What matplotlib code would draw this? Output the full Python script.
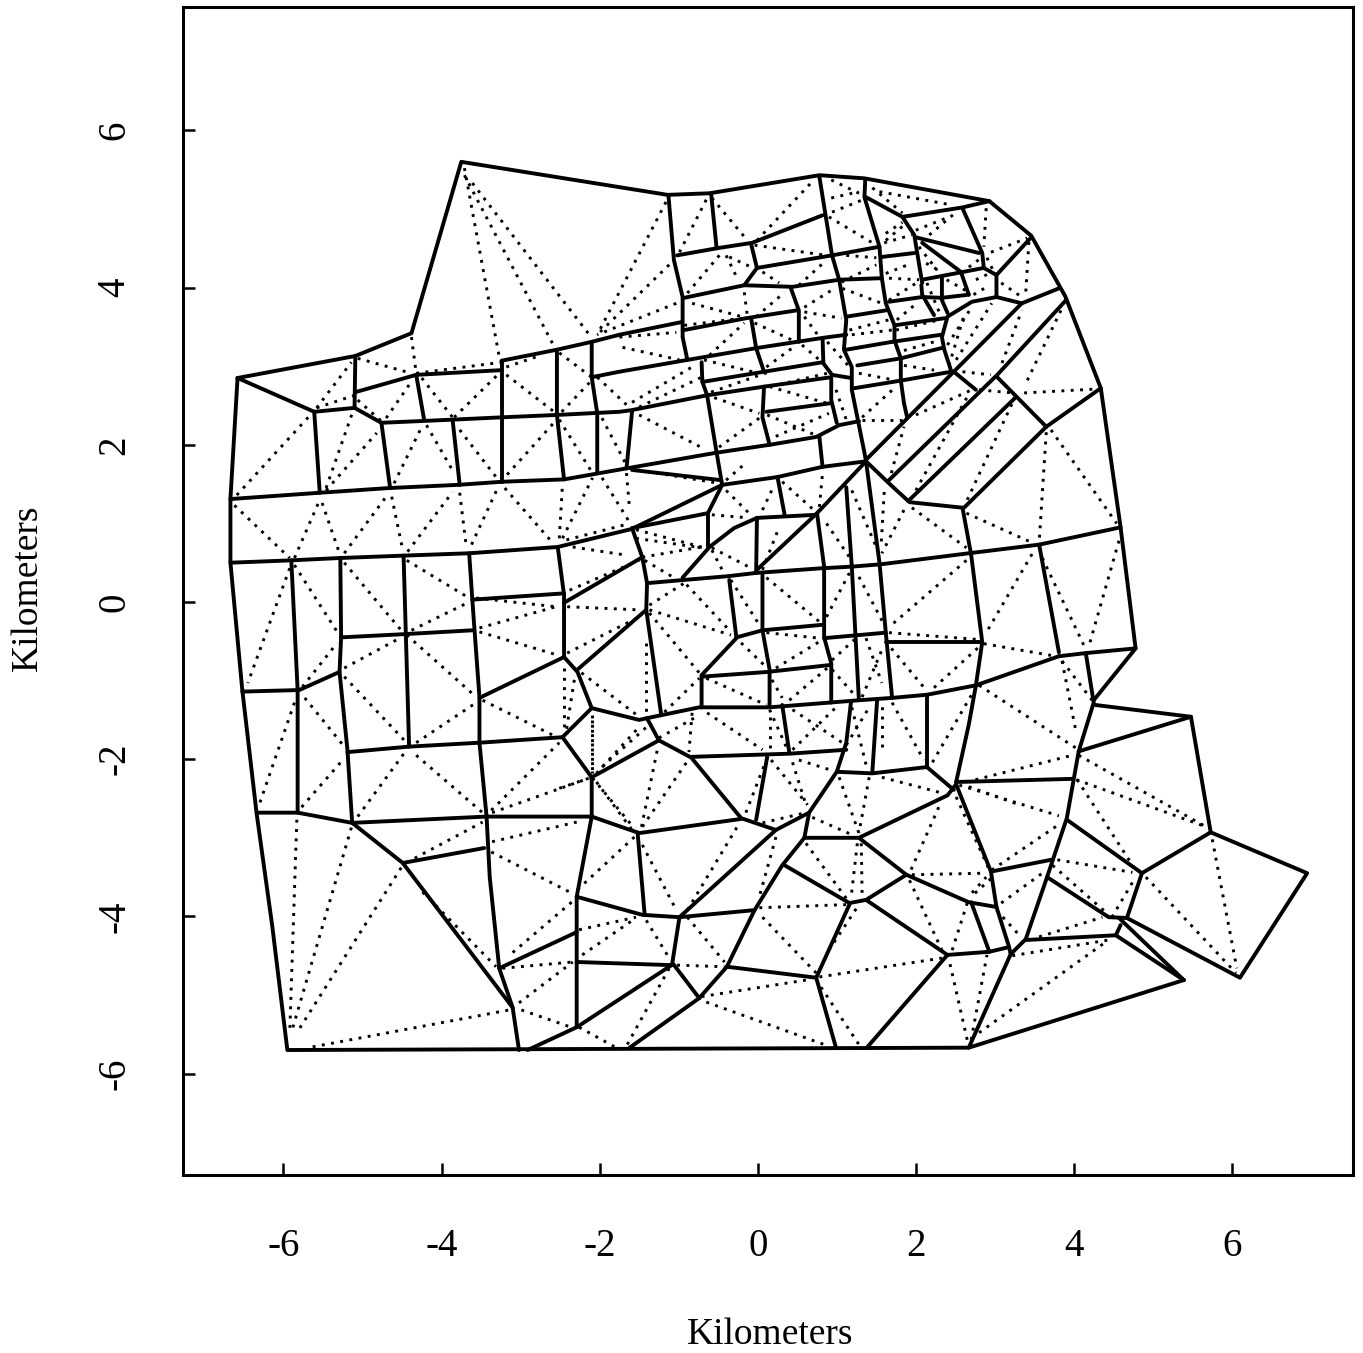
import matplotlib
matplotlib.use("Agg")
import matplotlib.pyplot as plt

# Polygon edges in km, each line is x, y, x, y, ...
boundary = [
    [-6.58,2.85, -5.09,3.13, -4.38,3.42, -3.75,5.60, -1.14,5.18, -0.61,5.20, 0.78,5.43, 1.35,5.39,
     2.93,5.10, 3.46,4.66, 3.89,3.89, 4.34,2.72, 4.59,0.95, 4.78,-0.59, 4.25,-1.25],
    [4.27,-1.31, 5.48,-1.46, 5.73,-2.93, 6.95,-3.45, 6.10,-4.78, 4.67,-4.02],
    [5.39,-4.81, 2.67,-5.67, -5.95,-5.70, -6.14,-4.13, -6.34,-2.68, -6.52,-1.12, -6.67,0.50, -6.67,1.31, -6.58,2.85],
]

north_west = [
    [-6.67,1.31, -5.54,1.39, -4.66,1.45, -3.80,1.49, -3.23,1.53, -2.45,1.56, -1.66,1.70, -0.52,1.90, 0.15,2.00, 0.74,2.10, 1.03,2.25, 1.28,2.30],
    [-6.67,0.50, -5.90,0.53, -5.28,0.56, -4.48,0.59, -3.65,0.62, -2.53,0.70, -1.59,0.93, -0.45,1.49],
    [-1.59,1.68, -0.46,1.55],
    [-0.45,1.49, 0.25,1.59, 0.82,1.72, 1.37,1.79],
    [-6.58,2.85, -5.61,2.42, -5.10,2.47, -4.76,2.28],
    [-5.61,2.42, -5.54,1.39],
    [-4.76,2.28, -4.65,1.45],
    [-5.09,3.13, -5.10,2.47],
    [-5.09,2.67, -4.32,2.89, -3.24,2.95],
    [-4.32,2.89, -4.22,2.32],
    [-4.76,2.28, -3.86,2.32, -3.23,2.35, -2.54,2.38, -1.75,2.42, -1.60,2.44, -0.64,2.63, 0.08,2.74, 0.93,2.86],
    [-3.86,2.32, -3.77,1.49],
    [-3.24,3.07, -3.24,1.53],
    [-2.54,3.21, -2.54,2.38, -2.45,1.56],
    [-2.10,3.31, -2.10,2.86, -2.03,2.40, -2.03,1.65],
    [-2.10,2.86, -1.75,2.93, -0.89,3.08, -0.02,3.23, 0.82,3.36, 1.12,3.40],
    [-3.24,3.07, -2.54,3.21, -2.10,3.31, -1.75,3.40, -0.97,3.56],
]

north_centre = [
    [-1.13,5.18, -1.06,4.35, -0.95,3.88, -0.95,3.37, -0.89,3.08],
    [-0.59,5.20, -0.52,4.50],
    [-1.02,4.41, -0.52,4.50, -0.07,4.57, 0.82,4.92],
    [-0.01,4.25, 0.94,4.41, 1.54,4.52],
    [-0.08,4.54, -0.01,4.25, -0.17,4.03],
    [-0.93,3.87, -0.17,4.03, 0.44,4.01, 1.03,4.10, 1.57,4.12],
    [1.57,4.39, 1.98,4.44],
    [-0.93,3.46, -0.15,3.61, 0.49,3.71],
    [0.42,3.99, 0.52,3.71, 0.52,3.31],
    [0.78,5.41, 0.94,4.41, 1.03,4.10, 1.12,3.59, 1.09,3.21, 1.19,2.99, 1.19,2.70, 1.35,1.90, 1.37,1.79],
    [1.12,3.63, 1.62,3.71],
    [1.12,3.21, 1.70,3.31],
    [-0.71,3.05, -0.70,2.80, -0.64,2.63, -0.52,1.90],
    [-0.70,2.80, 0.08,2.93, 0.82,3.05, 0.94,2.89, 1.18,2.85],
    [0.82,3.36, 0.83,3.05],
    [-0.08,3.59, -0.02,3.23, 0.08,2.93],
    [0.93,2.86, 0.93,2.57, 1.00,2.28],
    [0.11,2.42, 0.93,2.53],
    [0.08,2.74, 0.06,2.35, 0.15,2.00],
    [0.78,2.10, 0.82,1.72],
    [-1.59,2.42, -1.66,1.70],
    [1.22,2.72, 1.83,2.82],
    [1.26,3.01, 1.81,3.10],
    [1.81,3.10, 1.81,2.82, 1.85,2.53, 1.89,2.35],
    [1.73,3.50, 1.73,3.33, 1.81,3.10],
]

north_east = [
    [1.36,5.37, 1.35,5.15, 1.54,4.52, 1.57,4.12, 1.62,3.80, 1.73,3.52],
    [1.37,5.15, 1.83,4.90, 1.98,4.67, 2.08,4.06],
    [1.83,4.90, 2.59,5.02, 2.93,5.10],
    [2.59,5.01, 2.84,4.44, 2.86,4.25],
    [2.00,4.64, 2.80,4.44],
    [2.08,4.57, 2.57,4.20, 2.67,3.91],
    [2.08,4.10, 2.86,4.25, 3.02,4.16, 3.02,3.88],
    [3.02,4.16, 3.46,4.64],
    [2.33,4.12, 2.33,3.84, 2.40,3.68],
    [2.07,4.03, 2.08,3.91, 2.23,3.65],
    [1.66,3.82, 2.08,3.88, 2.33,3.87, 2.67,3.91],
    [2.40,3.63, 2.71,3.82, 3.02,3.88, 3.34,3.80, 3.81,3.99],
    [2.40,3.63, 2.33,3.37, 2.36,3.21, 2.45,2.93],
    [1.73,3.52, 2.36,3.61],
    [1.70,3.31, 2.32,3.40],
    [1.81,3.10, 2.32,3.23],
    [1.83,2.82, 2.45,2.93],
    [3.34,3.80, 2.48,2.93, 1.37,1.81],
    [3.90,3.84, 3.03,2.89, 1.66,1.55],
    [2.48,2.93, 2.76,2.70],
    [3.03,2.86, 3.65,2.23],
    [3.27,2.61, 1.92,1.30],
    [3.65,2.23, 2.61,1.20],
    [3.65,2.23, 4.34,2.72],
    [1.37,1.79, 1.66,1.51, 1.92,1.27, 2.59,1.20],
    [2.59,1.20, 2.70,0.60, 2.84,-0.51, 2.76,-1.06, 2.67,-1.56, 2.51,-2.29],
]

middle = [
    [-1.40,0.24, -0.36,0.33, -0.02,0.37, 0.82,0.43, 1.19,0.45, 1.56,0.48, 2.67,0.62, 3.56,0.73, 4.59,0.95],
    [3.56,0.73, 3.81,-0.64],
    [1.37,1.79, 1.54,0.50, 1.62,-0.39, 1.70,-1.22],
    [1.12,1.46, 1.19,0.45, 1.28,-1.25],
    [0.75,1.13, 0.84,0.45, 0.84,-0.45, 0.93,-0.78, 0.93,-1.28],
    [1.37,1.79, 0.75,1.13, -0.01,0.41],
    [-0.01,1.07, 0.75,1.11],
    [-0.01,1.07, -0.02,0.37],
    [-0.95,0.31, -0.61,0.70, -0.30,0.94, -0.01,1.07],
    [-0.63,1.13, -0.63,0.70],
    [-1.59,0.94, -0.63,1.13, -0.45,1.49],
    [-1.59,0.94, -1.46,0.57, -1.40,0.24],
    [-0.52,1.90, -0.45,1.49],
    [0.25,1.59, 0.34,1.11],
    [1.62,-0.51, 2.84,-0.51],
    [0.84,-0.46, 1.62,-0.39],
    [-1.40,0.24, -1.41,-0.10, -1.22,-1.44],
    [-2.28,-0.86, -1.41,-0.10],
    [-0.36,0.28, -0.27,-0.45],
    [-0.27,-0.45, 0.06,-0.36, 0.82,-0.29],
    [-0.27,-0.46, -0.71,-0.93, -0.71,-1.34],
    [-0.71,-0.95, 0.12,-0.89, 0.93,-0.80],
    [0.06,0.34, 0.06,-0.36, 0.15,-0.86, 0.15,-1.34],
    [-1.41,-1.48, -1.22,-1.44, -0.74,-1.34, 0.15,-1.34, 1.28,-1.25, 1.70,-1.22, 2.14,-1.18, 2.76,-1.06, 3.81,-0.69],
    [3.81,-0.69, 4.15,-0.65, 4.78,-0.59],
    [4.15,-0.65, 4.25,-1.28, 4.06,-1.90, 3.91,-2.75, 3.66,-3.50, 3.39,-4.29, 3.20,-4.48, 2.67,-5.67],
    [2.14,-1.18, 2.14,-2.10],
    [1.51,-1.25, 1.45,-2.16],
    [1.18,-1.27, 1.12,-1.79, 1.00,-2.16, 0.65,-2.68, 0.59,-3.00, 0.31,-3.35, -0.04,-3.92, -0.39,-4.64, -0.74,-5.04],
    [0.31,-1.31, 0.40,-1.92],
    [-0.84,-1.97, 0.40,-1.93, 1.12,-1.88],
    [1.00,-2.16, 1.45,-2.18, 2.14,-2.10, 2.48,-2.39],
    [-1.40,-1.48, -1.25,-1.76, -0.84,-1.98, -0.21,-2.75, 0.23,-2.90, 0.65,-2.68],
    [2.51,-2.29, 3.98,-2.25],
    [0.12,-1.97, -0.02,-2.77],
]

south_west = [
    [-5.90,0.53, -5.82,-1.12, -5.82,-2.68],
    [-6.52,-1.14, -5.80,-1.12, -5.29,-0.89],
    [-6.33,-2.68, -5.82,-2.68, -5.13,-2.81],
    [-5.28,0.56, -5.27,-0.45, -5.29,-0.89, -5.19,-1.88, -5.13,-2.81],
    [-5.27,-0.45, -4.49,-0.41, -3.61,-0.36],
    [-4.48,0.59, -4.41,-1.84],
    [-5.19,-1.91, -4.41,-1.84, -3.52,-1.79, -2.47,-1.72],
    [-3.65,0.62, -3.61,0.03, -3.58,-0.39, -3.52,-1.21, -3.52,-1.79, -3.43,-2.73, -3.39,-3.50, -3.27,-4.66, -3.10,-5.16, -3.02,-5.70],
    [-3.61,0.03, -2.45,0.11],
    [-2.53,0.70, -2.45,0.09, -2.45,-0.70, -2.28,-0.89, -2.10,-1.35],
    [-2.45,-0.01, -1.46,0.57],
    [-2.45,-0.70, -3.52,-1.22],
    [-2.47,-1.72, -2.10,-1.35, -1.50,-1.50, -1.41,-1.48],
    [-2.47,-1.72, -2.10,-2.23, -1.25,-1.76],
    [-2.10,-2.23, -2.10,-2.73, -2.29,-3.75, -2.29,-5.41],
    [-5.13,-2.81, -3.43,-2.73, -2.10,-2.73, -1.50,-2.94, -0.21,-2.76],
    [-5.13,-2.81, -4.49,-3.32, -3.10,-5.16],
    [-4.49,-3.32, -3.46,-3.13],
    [-3.27,-4.66, -2.29,-4.20],
    [-2.29,-3.75, -1.46,-3.98, -0.99,-4.01, -0.04,-3.92],
    [-2.29,-4.58, -1.09,-4.62],
    [-2.91,-5.70, -2.29,-5.41, -1.09,-4.62],
    [-1.62,-5.67, -0.74,-5.04],
    [-1.52,-2.93, -1.43,-3.98],
    [0.23,-2.90, -0.99,-4.01, -1.08,-4.59, -0.74,-5.04],
]

south_east = [
    [-0.39,-4.64, 0.74,-4.78, 0.99,-5.67],
    [0.74,-4.78, 1.16,-3.85],
    [0.34,-3.35, 1.16,-3.83, 1.37,-3.79, 1.88,-3.47],
    [0.59,-3.00, 1.28,-3.00, 1.88,-3.47, 2.67,-3.82, 3.02,-3.88],
    [1.28,-3.00, 2.40,-2.46, 2.51,-2.32],
    [1.37,-3.79, 2.40,-4.49, 2.93,-4.45, 3.18,-4.39],
    [1.38,-5.67, 2.40,-4.49],
    [2.70,-3.82, 2.93,-4.45],
    [2.51,-2.32, 2.95,-3.43, 3.02,-3.88, 3.18,-4.39, 3.20,-4.48],
    [2.95,-3.43, 3.71,-3.28],
    [4.06,-1.90, 5.48,-1.46],
    [5.73,-2.93, 4.86,-3.45, 3.91,-2.77],
    [4.86,-3.45, 4.67,-4.02],
    [3.66,-3.50, 4.44,-4.01, 4.67,-4.02],
    [3.39,-4.30, 4.53,-4.24, 4.59,-4.11],
    [4.53,-4.24, 5.39,-4.81],
    [4.57,-4.02, 5.39,-4.81],
]

# Dotted triangulation edges in km: x1, y1, x2, y2
dotted_north = [
    [-3.71,5.52,-3.27,3.12], [-3.71,5.43,-2.57,3.24], [-3.61,5.33,-2.13,3.40], [-1.16,5.09,-2.03,3.40],
    [-6.59,1.36,-5.64,2.40], [-5.58,2.47,-5.14,3.05], [-5.58,2.47,-5.10,2.63], [-5.06,3.10,-4.38,2.91],
    [-4.38,3.37,-4.32,2.91], [-4.32,2.91,-3.24,3.05], [-5.06,2.57,-4.75,2.29], [-4.70,2.34,-4.37,2.82],
    [-4.25,2.85,-3.86,2.35], [-3.84,2.35,-3.29,2.89], [-3.18,2.89,-2.55,2.40], [-3.18,2.99,-2.80,3.12],
    [-2.48,2.42,-2.10,2.82], [-2.51,3.17,-2.10,2.86], [-2.03,2.86,-1.66,2.51], [-5.46,1.45,-5.13,2.40],
    [-5.46,1.42,-4.82,2.15], [-4.60,1.51,-4.24,2.25], [-4.19,2.25,-3.84,1.64], [-3.77,2.19,-3.31,1.59],
    [-3.17,1.62,-2.57,2.29], [-2.51,2.32,-2.09,1.64], [-1.97,2.34,-1.68,1.78],
    [-6.62,1.23,-5.92,0.56], [-5.86,0.56,-5.54,1.30], [-5.51,1.26,-5.29,0.62], [-5.23,0.62,-4.70,1.34],
    [-4.63,1.34,-4.49,0.66], [-4.43,0.64,-3.86,1.40], [-3.77,1.39,-3.69,0.73], [-3.62,0.73,-3.29,1.45],
    [-3.20,1.45,-2.60,0.76], [-2.51,0.81,-2.47,1.49], [-2.47,0.81,-2.09,1.58], [-1.97,1.58,-1.60,0.98],
    [-2.34,0.70,-1.69,0.60], [-2.42,0.79,-1.69,0.98],
    [-1.12,4.29,-2.03,3.40], [-1.03,3.80,-2.03,3.40], [-1.75,3.37,-1.03,3.43], [-1.71,3.24,-0.99,3.08],
    [-0.99,4.45,-0.64,5.14], [-0.58,5.14,-0.13,4.60], [-0.01,4.60,0.71,5.37], [-0.04,4.54,0.87,4.41],
    [-0.89,3.93,-0.46,4.44], [-0.40,4.41,-0.26,4.12], [-0.36,4.39,-0.08,4.26], [-0.83,3.80,-0.20,3.63],
    [-0.17,3.94,-0.13,3.63], [-0.02,3.63,0.34,3.94], [-0.93,3.52,-0.20,3.61], [0.06,4.20,0.27,4.06],
    [0.52,4.03,0.87,4.35], [0.93,5.14,1.28,5.22], [0.93,5.37,1.28,5.20], [0.90,4.90,1.45,4.57],
    [0.94,4.96,1.31,5.11], [0.59,3.75,0.94,3.97], [0.59,3.69,1.06,3.61], [0.59,3.63,0.78,3.37],
    [1.07,3.99,1.57,3.80], [1.06,4.07,1.50,4.29], [1.12,4.41,1.50,4.38], [-0.61,3.14,-0.17,3.55],
    [-0.04,3.55,0.44,3.33], [0.11,2.99,0.49,3.27], [0.56,3.27,0.78,3.08], [-0.68,3.08,-0.07,2.93],
    [0.88,3.31,1.16,2.99], [1.16,3.46,1.66,3.59], [1.19,3.40,1.70,3.46], [-0.59,2.67,0.15,2.93],
    [0.15,2.74,0.88,2.91], [0.15,2.74,0.87,2.53], [-0.55,2.60,0.02,2.40], [-0.49,1.97,0.02,2.34],
    [0.12,2.38,0.74,2.12], [0.12,2.06,0.90,2.40], [-1.50,2.48,-0.71,2.86], [-1.59,2.54,-0.83,2.99],
    [-1.50,2.38,-0.70,1.96], [0.99,2.70,1.12,2.32], [1.32,2.32,1.83,2.32], [1.32,2.35,1.75,2.74],
    [1.28,2.91,1.75,2.82], [1.62,4.18,1.95,4.31], [1.62,4.60,1.88,4.82],
    [1.45,5.27,1.83,4.95], [1.54,5.22,2.46,5.05], [1.60,4.57,1.95,4.67], [1.62,4.69,1.83,4.83],
    [2.00,4.73,2.42,4.90], [2.17,4.67,2.51,4.96], [2.89,5.01,2.86,4.52], [2.95,4.45,3.41,4.63],
    [2.90,4.38,2.99,4.19], [3.43,4.58,3.39,3.93], [3.08,4.06,3.34,3.88], [2.04,4.52,2.27,4.22],
    [2.13,4.31,2.29,4.22], [2.67,4.26,2.83,4.38], [2.76,4.10,2.95,4.19], [2.73,3.91,2.90,4.01],
    [2.39,4.10,2.67,3.94], [2.14,4.06,2.30,3.68], [1.66,4.12,2.04,4.10], [1.66,3.84,2.01,4.06],
    [1.76,3.59,2.01,3.80], [1.75,3.46,2.30,3.59], [1.85,3.20,2.30,3.33], [1.85,3.01,2.23,2.95],
    [2.42,3.01,2.62,3.68], [2.51,3.08,2.96,3.80], [2.40,3.27,2.68,3.71], [3.09,3.04,3.34,3.71],
    [3.41,2.82,3.85,3.74], [2.59,2.93,2.95,2.89], [3.37,2.66,4.29,2.71], [2.80,2.70,3.22,2.66],
    [2.00,2.38,2.71,2.70], [1.69,1.64,1.85,2.23], [2.00,1.42,2.65,2.61], [2.65,1.30,3.22,2.53],
    [3.65,2.16,3.56,0.76], [3.71,2.19,4.54,1.00], [2.64,1.13,3.46,0.76], [1.95,1.20,2.64,0.69],
    [1.60,1.40,1.56,0.70], [1.85,1.17,1.57,0.62],
]

dotted_east = [
    [4.57,0.78,4.19,-0.56], [3.47,0.61,2.89,-0.39], [2.64,0.53,1.66,-0.32], [3.60,0.56,4.13,-0.56],
    [2.86,-0.53,3.77,-0.69], [3.85,-0.75,4.03,-1.67], [3.85,-0.75,4.23,-1.25], [2.80,-1.06,4.03,-1.86],
    [2.64,-2.29,3.98,-1.95], [2.55,-2.33,3.81,-2.72], [2.96,-3.41,3.84,-2.81], [4.04,-2.26,4.78,-3.41],
    [4.03,-2.26,5.67,-2.86], [4.06,-1.95,5.67,-2.86], [5.75,-3.02,6.06,-4.66], [4.91,-3.50,6.05,-4.72],
    [3.79,-3.28,4.74,-3.44], [3.73,-3.35,4.44,-3.98], [4.48,-4.01,4.78,-3.50], [3.08,-3.83,3.60,-3.45],
    [2.95,-3.52,2.71,-3.74], [3.02,-3.92,3.31,-4.24], [3.56,-4.26,4.36,-4.01], [3.22,-4.50,4.44,-4.30],
    [2.80,-5.48,4.41,-4.32], [2.70,-5.57,2.90,-4.49], [2.65,-5.57,2.42,-4.55],
]

dotted_middle = [
    [-1.66,1.64,-1.62,1.17], [-1.52,1.68,-0.49,1.51], [-0.40,1.42,-0.11,1.13], [0.06,1.17,0.21,1.49],
    [0.31,1.53,0.71,1.17], [0.78,1.21,0.82,1.64], [-0.40,1.55,-0.15,1.77], [-0.58,1.11,-0.11,1.07],
    [-1.54,0.92,-0.71,0.70], [-1.54,0.81,-0.71,0.69], [-1.46,0.57,-0.71,0.70], [-1.43,0.53,-1.06,0.31],
    [-0.58,0.66,-0.45,0.41], [-0.58,0.69,-0.08,0.43], [0.06,0.41,0.27,0.95], [0.87,1.00,1.16,0.57],
    [1.19,1.42,1.50,0.70], [1.66,-0.39,2.83,-0.48], [1.69,-0.59,2.13,-1.12], [2.23,-1.09,2.80,-0.57],
    [0.11,0.31,0.78,-0.25], [-0.34,0.28,0.02,-0.29], [0.87,-0.19,1.16,0.37], [1.28,0.32,1.60,-0.29],
    [-1.37,-0.04,-0.93,0.24], [-0.90,0.22,-0.34,-0.38], [-1.37,-0.10,-0.34,-0.42], [-1.37,-0.14,-0.74,-0.90],
    [-1.18,-1.40,-0.74,-0.97], [-1.41,-0.52,-1.41,-1.41], [-0.21,-0.52,0.11,-0.83], [0.23,-0.84,0.82,-0.48],
    [0.11,-0.39,0.78,-0.46], [-0.65,-0.97,0.11,-1.31], [0.18,-0.99,0.31,-1.22], [0.40,-1.25,0.88,-0.84],
    [0.94,-0.74,1.22,-0.48], [0.94,-0.86,1.25,-1.21], [1.32,-1.21,1.57,-0.61], [1.37,-0.46,1.57,-1.03],
    [-0.83,-1.41,-0.87,-1.91], [-0.64,-1.41,0.06,-1.88], [-1.25,-1.73,-0.74,-1.44], [0.15,-1.46,0.15,-1.91],
    [0.15,-1.37,0.36,-1.84], [0.44,-1.88,0.99,-1.34], [0.44,-1.37,1.07,-1.79], [1.12,-1.82,1.41,-1.34],
    [1.19,-1.34,1.38,-2.11], [1.57,-1.84,1.57,-1.28], [1.70,-1.28,2.10,-2.01], [2.21,-2.04,2.74,-1.12],
]

dotted_south = [
    [-2.10,-1.50,-2.10,-2.20], [-1.97,-2.10,-1.35,-1.54], [-2.09,-2.24,-1.56,-2.88], [-1.47,-2.86,-1.27,-1.88],
    [-1.46,-2.86,-0.90,-2.04], [-2.51,-2.37,-2.13,-2.24], [-2.28,-3.66,-1.56,-2.99], [-1.46,-3.09,-1.03,-3.92],
    [-0.89,-3.92,-0.23,-2.81], [0.06,-4.01,0.74,-4.72], [0.02,-3.89,1.12,-3.85], [0.06,-2.81,0.61,-2.68],
    [0.17,-2.01,0.63,-2.58], [0.44,-2.04,0.61,-2.58], [-0.15,-2.68,0.12,-1.98], [0.52,-2.01,0.93,-2.14],
    [1.03,-2.23,1.28,-2.94], [1.41,-2.23,1.28,-2.94], [1.57,-2.23,2.33,-2.43], [2.67,-2.35,3.31,-2.58],
    [2.51,-2.48,2.93,-3.41], [2.29,-2.61,1.92,-3.45], [0.69,-2.74,1.19,-2.96], [0.61,-3.07,1.12,-3.77],
    [1.26,-3.07,1.18,-3.77], [1.31,-3.07,1.32,-3.70], [0.23,-2.99,0.02,-3.75], [-0.89,-4.01,-0.42,-4.58],
    [-1.02,-4.62,-0.42,-4.64], [-2.26,-4.17,-1.54,-4.01], [-2.22,-4.49,-1.54,-4.02], [-1.41,-4.05,-1.12,-4.53],
    [-1.65,-5.63,-1.12,-4.66], [-2.26,-5.41,-1.79,-5.67], [-0.71,-5.02,0.61,-4.81], [-0.65,-5.09,0.84,-5.63],
    [0.78,-4.77,2.33,-4.53], [0.80,-4.90,1.28,-5.63], [0.90,-4.43,1.28,-3.85], [1.95,-3.47,2.89,-3.45],
    [1.92,-3.54,2.33,-4.43], [2.46,-4.43,2.65,-3.83], [2.71,-3.70,2.89,-3.50],
    [-5.92,0.43,-6.45,-1.03], [-5.86,0.47,-5.32,-0.38], [-5.76,-1.08,-5.32,-0.52], [-5.23,0.50,-4.51,-0.36],
    [-4.44,0.53,-3.65,0.05], [-4.38,-0.36,-3.65,0.00], [-5.23,-0.84,-4.51,-0.45], [-5.23,-0.95,-4.47,-1.76],
    [-4.44,-0.42,-3.56,-1.21], [-4.32,-1.79,-3.56,-1.28], [-5.73,-1.22,-5.23,-1.84], [-5.86,-1.28,-6.30,-2.56],
    [-5.77,-2.61,-5.25,-2.01], [-5.06,-2.73,-4.47,-1.92], [-4.32,-1.95,-3.48,-2.68], [-5.83,-2.77,-5.92,-5.48],
    [-5.14,-2.87,-5.90,-5.48], [-4.51,-3.38,-5.83,-5.48], [-5.63,-5.66,-3.14,-5.19], [-4.34,-3.26,-3.48,-2.80],
    [-4.24,-3.69,-3.31,-4.64], [-3.36,-3.05,-2.29,-2.80], [-3.37,-3.18,-2.36,-3.70], [-3.10,-4.46,-2.32,-3.79],
    [-3.23,-4.66,-2.34,-4.58], [-3.02,-5.10,-2.34,-4.58], [-2.99,-5.19,-2.36,-5.41], [-3.36,-2.68,-2.13,-2.24],
    [-3.37,-2.65,-2.51,-1.79], [-3.48,-1.25,-2.54,-1.72], [-3.52,-0.38,-2.55,-0.67], [-3.52,-0.33,-2.55,-0.06],
    [-3.56,0.05,-2.55,-0.06], [-2.38,0.15,-1.50,0.53], [-2.41,-0.06,-1.50,-0.10], [-2.41,-0.65,-1.50,-0.19],
    [-2.45,-0.84,-2.45,-1.63], [-2.32,-0.99,-2.42,-1.63], [-2.23,-0.90,-1.50,-1.46], [-2.10,-1.44,-2.10,-2.18],
    [-2.04,-2.18,-1.50,-1.59], [-2.04,-2.29,-1.59,-2.90],
]

tick_values = [-6, -4, -2, 0, 2, 4, 6]
tick_labels = ["-6", "-4", "-2", "0", "2", "4", "6"]
axis_label = "Kilometers"

plt.rcParams["font.family"] = ["Liberation Serif", "DejaVu Serif"]

fig = plt.figure(figsize=(13.63, 13.53), dpi=100)
ax = fig.add_axes([183 / 1363, 1 - 1175 / 1353, 1170 / 1363, 1168 / 1353])

# dotted edges first, solid polygons on top
for group in [dotted_north, dotted_east, dotted_middle, dotted_south]:
    for seg in group:
        ax.plot([seg[0], seg[2]], [seg[1], seg[3]], color="black", lw=2.1,
                linestyle=(0, (1, 2.2)), dash_capstyle="butt")

for group in [boundary, north_west, north_centre, north_east, middle, south_west, south_east]:
    for line in group:
        ax.plot(line[0::2], line[1::2], color="black", lw=2.8, solid_capstyle="round",
                solid_joinstyle="round")

ax.set_xlim(-7.27, 7.53)
ax.set_ylim(-7.29, 7.57)
ax.set_xticks(tick_values)
ax.set_xticklabels(tick_labels)
ax.set_yticks(tick_values)
ax.set_yticklabels(tick_labels, rotation=90, va="center")
ax.tick_params(direction="in", length=8.5, width=1.8, labelsize=28)
ax.tick_params(axis="x", pad=38)
ax.tick_params(axis="y", pad=36)
for side in ax.spines.values():
    side.set_linewidth(2.2)

fig.text(770 / 1363, 1 - 1335 / 1353, axis_label, fontsize=27, ha="center", va="center")
fig.text(28 / 1363, 1 - 588 / 1353, axis_label, fontsize=27, ha="center", va="center", rotation=90)

fig.savefig("out.png", dpi=100)
